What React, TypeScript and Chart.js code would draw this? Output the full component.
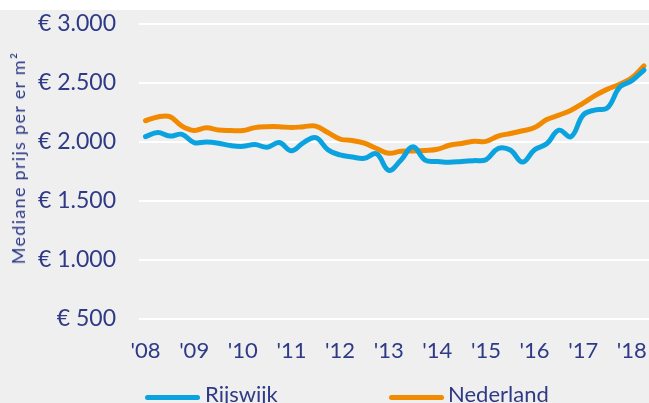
import React, { useEffect, useRef } from 'react';
import { Chart, registerables } from 'chart.js';

Chart.register(...registerables);

// Tick labels on the x axis (one per year, at Q1)
const yearLabels = ["'08", "'09", "'10", "'11", "'12", "'13", "'14", "'15", "'16", "'17", "'18"];

// Quarterly categories 2008 Q1 .. 2018 Q2
const quarters = [
  '2008K1', '2008K2', '2008K3', '2008K4',
  '2009K1', '2009K2', '2009K3', '2009K4',
  '2010K1', '2010K2', '2010K3', '2010K4',
  '2011K1', '2011K2', '2011K3', '2011K4',
  '2012K1', '2012K2', '2012K3', '2012K4',
  '2013K1', '2013K2', '2013K3', '2013K4',
  '2014K1', '2014K2', '2014K3', '2014K4',
  '2015K1', '2015K2', '2015K3', '2015K4',
  '2016K1', '2016K2', '2016K3', '2016K4',
  '2017K1', '2017K2', '2017K3', '2017K4',
  '2018K1', '2018K2',
];

// Median price per m2, Rijswijk
const rijswijk = [
  2045, 2080, 2050, 2065,
  1995, 2000, 1990, 1970,
  1963, 1978, 1955, 1995,
  1925, 1995, 2037, 1935,
  1890, 1873, 1862, 1900,
  1760, 1845, 1960, 1847,
  1835, 1828, 1835, 1842,
  1850, 1945, 1932, 1830,
  1935, 1985, 2100, 2045,
  2229, 2272, 2290, 2465,
  2520, 2610,
];

// Median price per m2, Nederland
const nederland = [
  2180, 2212, 2215, 2135,
  2098, 2120, 2102, 2098,
  2097, 2122, 2130, 2130,
  2122, 2130, 2135, 2080,
  2025, 2012, 1990, 1945,
  1905, 1922, 1923, 1928,
  1938, 1972, 1988, 2006,
  2005, 2050, 2072, 2095,
  2122, 2190, 2228, 2270,
  2330, 2395, 2448, 2490,
  2545, 2645,
];

const yTicks = [500, 1000, 1500, 2000, 2500, 3000];

const NAVY = '#2e3a86';
const BLUE = '#0ba2e0';
const ORANGE = '#f18a00';
const BG = '#efefef';
const FONT = 'Lato, "Noto Sans", sans-serif';

function euro(v: number): string {
  const n = Math.round(v);
  if (n >= 1000) {
    const th = Math.floor(n / 1000);
    const rest = String(n % 1000).padStart(3, '0');
    return '€ ' + th + '.' + rest;
  }
  return '€ ' + n;
}

export default function App() {
  const ref = useRef<HTMLCanvasElement>(null);

  useEffect(() => {
    const canvas = ref.current;
    if (!canvas) return;
    const chart = new Chart(canvas, {
      type: 'line',
      data: {
        labels: quarters,
        datasets: [
          {
            label: 'Rijswijk',
            data: rijswijk.map((v, i) => ({ x: i, y: v })),
            borderColor: BLUE,
            backgroundColor: BLUE,
            borderWidth: 5,
            pointRadius: 0,
            tension: 0.4,
            borderCapStyle: 'round',
            borderJoinStyle: 'round',
            fill: false,
          },
          {
            label: 'Nederland',
            data: nederland.map((v, i) => ({ x: i, y: v })),
            borderColor: ORANGE,
            backgroundColor: ORANGE,
            borderWidth: 5,
            pointRadius: 0,
            tension: 0.4,
            borderCapStyle: 'round',
            borderJoinStyle: 'round',
            fill: false,
          },
        ],
      },
      options: {
        animation: false,
        responsive: false,
        maintainAspectRatio: false,
        layout: { padding: { top: 14, right: 0, bottom: 0, left: 0 } },
        plugins: {
          legend: { display: false },
          tooltip: { enabled: false },
        },
        scales: {
          x: {
            type: 'linear',
            min: -0.535,
            max: 41.41,
            grid: { display: false, drawTicks: false },
            border: { display: false },
            afterBuildTicks: (s: any) => {
              s.ticks = yearLabels.map((_, k) => ({ value: k * 4 }));
            },
            afterFit: (s: any) => {
              s.height = 84;
              s.paddingLeft = 0;
              s.paddingRight = 0;
            },
            ticks: {
              autoSkip: false,
              maxRotation: 0,
              padding: 19,
              color: NAVY,
              font: { family: FONT, size: 22 },
              callback: (v: any) => yearLabels[Math.round(Number(v) / 4)] ?? '',
            },
          },
          y: {
            min: 500,
            max: 3000,
            afterBuildTicks: (s: any) => {
              s.ticks = yTicks.map((v) => ({ value: v }));
            },
            afterFit: (s: any) => {
              s.width = 139;
              s.paddingTop = 0;
              s.paddingBottom = 0;
            },
            grid: { color: '#ffffff', lineWidth: 2, drawTicks: false },
            border: { display: false },
            ticks: {
              padding: 23,
              color: NAVY,
              font: { family: FONT, size: 23 },
              callback: (v: any) => euro(Number(v)),
            },
          },
        },
      },
    });
    return () => chart.destroy();
  }, []);

  const legendText: React.CSSProperties = {
    position: 'absolute',
    fontFamily: FONT,
    fontSize: 22,
    lineHeight: '22px',
    color: NAVY,
    whiteSpace: 'nowrap',
  };
  const legendBar = (color: string, left: number): React.CSSProperties => ({
    position: 'absolute',
    left,
    top: 395,
    width: 55,
    height: 5,
    borderRadius: 2.5,
    background: color,
  });

  return (
    <div
      style={{
        position: 'absolute',
        left: 0,
        top: 0,
        width: 649,
        height: 403,
        overflow: 'hidden',
        background: '#ffffff',
      }}
    >
      <div style={{ position: 'absolute', left: 0, top: 10, width: 649, height: 393, background: BG }} />
      <canvas
        ref={ref}
        width={649}
        height={393}
        style={{ position: 'absolute', left: 0, top: 10, width: 649, height: 393, display: 'block' }}
      />
      <div
        style={{
          position: 'absolute',
          left: 18,
          top: 158,
          transform: 'translate(-50%, -50%) rotate(-90deg)',
          fontFamily: FONT,
          fontSize: 18,
          letterSpacing: 1.3,
          lineHeight: '18px',
          color: NAVY,
          whiteSpace: 'nowrap',
        }}
      >
        Mediane prijs per er m²
      </div>
      <div style={legendBar(BLUE, 145)} />
      <div style={{ ...legendText, left: 205, top: 383 }}>Rijswijk</div>
      <div style={legendBar(ORANGE, 389)} />
      <div style={{ ...legendText, left: 448, top: 383 }}>Nederland</div>
    </div>
  );
}
